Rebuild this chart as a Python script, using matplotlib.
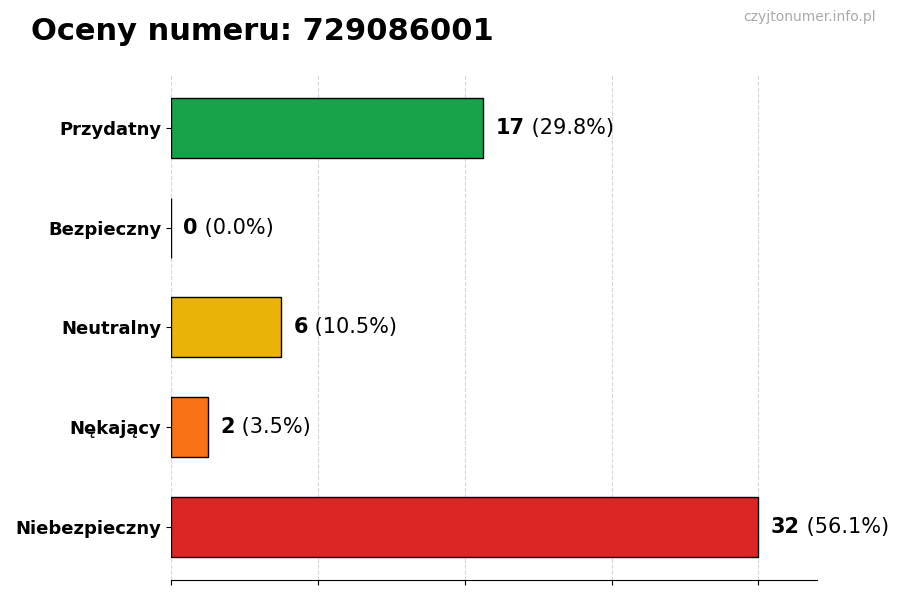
import matplotlib
matplotlib.use("Agg")
from matplotlib import pyplot as plt

categories = ["Przydatny", "Bezpieczny", "Neutralny", "Nękający", "Niebezpieczny"]
counts = [17, 0, 6, 2, 32]
colors = ["#16a34a", "#3b82f6", "#eab308", "#f97316", "#dc2626"]
phone = "729086001"

total = sum(counts)

fig = plt.figure(figsize=(9, 6), dpi=100)
ax = fig.add_axes([0.19, 0.0333, 0.718, 0.842])

ypos = list(range(len(categories)))[::-1]
ax.barh(ypos, counts, height=0.6, color=colors, edgecolor="black", linewidth=1)

ax.set_xlim(0, max(counts) * 1.1)
ax.set_xticks([0, 8, 16, 24, 32])
ax.set_xticklabels([])
ax.set_yticks(ypos)
ax.set_yticklabels(categories, fontsize=13, fontweight="bold")
ax.grid(axis="x", linestyle="--", color="#cccccc", alpha=0.8)
ax.set_axisbelow(True)
for side in ["top", "right", "left"]:
    ax.spines[side].set_visible(False)

for y, c in zip(ypos, counts):
    pct = c / total * 100
    t = ax.annotate(str(c), xy=(c, y), xytext=(9, 0), textcoords="offset points",
                    va="center", ha="left", fontsize=15, fontweight="bold")
    ax.annotate(f" ({pct:.1f}%)", xy=(1, 0.5), xycoords=t, va="center",
                ha="left", fontsize=15)

fig.text(0.034, 0.948, f"Oceny numeru: {phone}", fontsize=22, fontweight="bold",
         va="center", ha="left")
fig.text(0.973, 0.971, "czyjtonumer.info.pl", fontsize=10, color="#aaaaaa",
         va="center", ha="right")

fig.savefig("out.png", dpi=100)
